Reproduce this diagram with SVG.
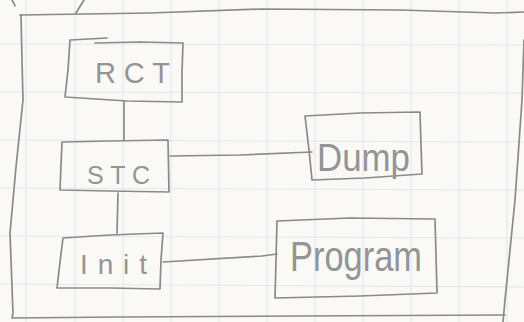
<svg xmlns="http://www.w3.org/2000/svg" width="524" height="322" viewBox="0 0 524 322">
  <defs>
    <style>
      .paper { fill: #faf9f5; }
      .grid line { stroke: #e0e8f0; stroke-width: 1.1; }
      .pencil { fill: none; stroke: #8a8a8a; stroke-width: 1.7; stroke-linecap: round; stroke-linejoin: round; }
      .label { font-family: "Liberation Sans", "DejaVu Sans", sans-serif; fill: #949494; }
    </style>
  </defs>

  <!-- squared paper -->
  <rect class="paper" x="0" y="0" width="524" height="322"/>
  <g class="grid">
    <line x1="26" y1="0" x2="26" y2="322"/>
    <line x1="75" y1="0" x2="75" y2="322"/>
    <line x1="123" y1="0" x2="123" y2="322"/>
    <line x1="171" y1="0" x2="171" y2="322"/>
    <line x1="219" y1="0" x2="219" y2="322"/>
    <line x1="267" y1="0" x2="267" y2="322"/>
    <line x1="315" y1="0" x2="315" y2="322"/>
    <line x1="363" y1="0" x2="363" y2="322"/>
    <line x1="411" y1="0" x2="411" y2="322"/>
    <line x1="459" y1="0" x2="459" y2="322"/>
    <line x1="507" y1="0" x2="507" y2="322"/>
    <line x1="0" y1="44" x2="524" y2="45"/>
    <line x1="0" y1="92" x2="524" y2="93"/>
    <line x1="0" y1="140" x2="524" y2="142"/>
    <line x1="0" y1="188" x2="524" y2="190"/>
    <line x1="0" y1="236" x2="524" y2="238"/>
    <line x1="0" y1="284" x2="524" y2="287"/>
  </g>

  <!-- outer frame -->
  <g id="frame">
    <path class="pencil" d="M20,15 L150,13 L262,9 L400,10 L495,13 L524,12"/>
    <path class="pencil" d="M21,15 L22,60 L23,100 L16,167 L10,233 L13,313 L12,318 L120,317 L300,316 L505,315"/>
    <path class="pencil" d="M524,40 L522,100 L515,200 L505,300 L503,322"/>
    <path class="pencil" d="M76,13 L84,0"/>
    <path class="pencil" d="M12,0 Q14,3 15,6"/>
  </g>

  <!-- connectors -->
  <g id="connectors">
    <path class="pencil" d="M124,102 L124,140"/>
    <path class="pencil" d="M170,156 L240,155 L312,152"/>
    <path class="pencil" d="M118,193 L117,233"/>
    <path class="pencil" d="M163,262 L262,256 L277,254"/>
  </g>

  <g id="rct">
    <path class="pencil" d="M95,43 L140,42 L183,43 L182,72 L182,102 L127,101 L65,97 L68,70 L70,40 L107,38"/>
    <text class="label" x="95" y="83" font-size="29" textLength="75" lengthAdjust="spacing">RCT</text>
  </g>

  <g id="stc">
    <path class="pencil" d="M62,142 L110,141 L168,140 L169,192 L110,191 L60,190 L61,165 Z"/>
    <text class="label" x="87" y="184" font-size="25" textLength="63" lengthAdjust="spacing">STC</text>
  </g>

  <g id="dump">
    <path class="pencil" d="M305,116 L360,113 L420,112 L421,145 L422,174 L365,178 L312,180 L309,150 Z"/>
    <text class="label" x="317" y="171" font-size="38" textLength="93" lengthAdjust="spacingAndGlyphs">Dump</text>
  </g>

  <g id="init">
    <path class="pencil" d="M63,238 L110,235 L163,233 L161,260 L160,289 L110,288 L57,288 L60,262 Z"/>
    <text class="label" x="80" y="274" font-size="28" textLength="67" lengthAdjust="spacing">Init</text>
  </g>

  <g id="program">
    <path class="pencil" d="M277,221 L350,218 L435,219 L436,255 L437,293 L360,296 L275,298 L276,260 Z"/>
    <text class="label" x="290" y="271" font-size="42" textLength="132" lengthAdjust="spacingAndGlyphs">Program</text>
  </g>
</svg>
